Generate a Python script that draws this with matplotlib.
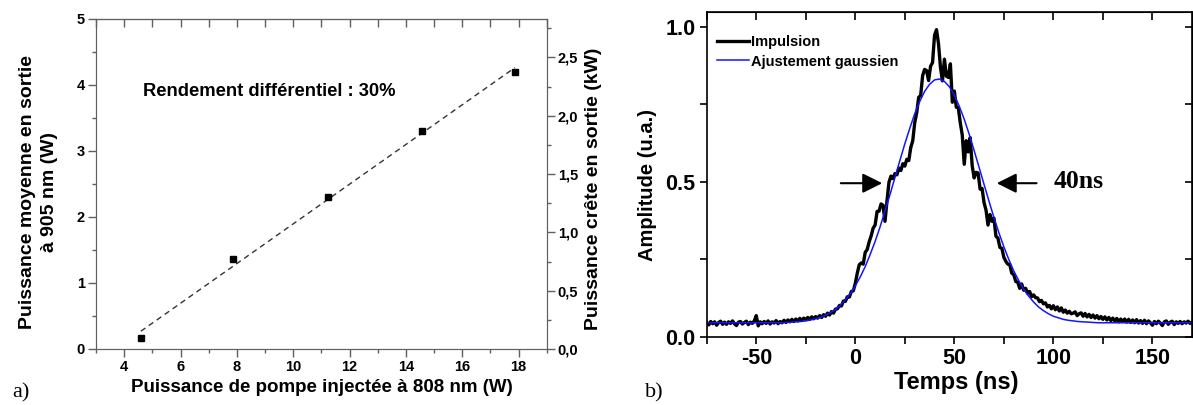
import numpy as np
import matplotlib.pyplot as plt
from matplotlib.ticker import MultipleLocator, FuncFormatter

plt.rcParams['font.family'] = ['Liberation Sans', 'DejaVu Sans']
plt.rcParams['font.weight'] = 'bold'
plt.rcParams['axes.labelweight'] = 'bold'
plt.rcParams['axes.unicode_minus'] = False

# ── (a) output power vs injected pump power ──────────────────────────────────
pump_w = [4.59, 7.87, 11.23, 14.56, 17.87]
avg_out_w = [0.16, 1.36, 2.31, 3.30, 4.19]
peak_kw_max = 2.83          # right axis top (kW) matching 5 W on the left
slope_text = 'Rendement différentiel : 30%'

# ── (b) pulse shape, 1 ns sampling starting at -75 ns ────────────────────────
pulse_t0 = -75
pulse_amp = [
    0.046, 0.038, 0.049, 0.042, 0.048, 0.037, 0.046, 0.050, 0.040, 0.047,
    0.040, 0.048, 0.043, 0.051, 0.042, 0.036, 0.047, 0.049, 0.041, 0.046,
    0.050, 0.039, 0.047, 0.043, 0.051, 0.068, 0.035, 0.048, 0.042, 0.049,
    0.043, 0.051, 0.041, 0.048, 0.044, 0.052, 0.042, 0.049, 0.045, 0.053,
    0.046, 0.054, 0.048, 0.056, 0.049, 0.057, 0.051, 0.059, 0.053, 0.060,
    0.055, 0.062, 0.056, 0.064, 0.058, 0.065, 0.060, 0.068, 0.062, 0.071,
    0.066, 0.076, 0.070, 0.081, 0.076, 0.089, 0.090, 0.101, 0.099, 0.115,
    0.114, 0.129, 0.128, 0.146, 0.148, 0.172, 0.205, 0.232, 0.238, 0.234,
    0.272, 0.281, 0.306, 0.325, 0.350, 0.360, 0.404, 0.405, 0.428, 0.424,
    0.372, 0.438, 0.498, 0.518, 0.510, 0.526, 0.522, 0.544, 0.536, 0.558,
    0.550, 0.572, 0.568, 0.610, 0.632, 0.690, 0.722, 0.772, 0.778, 0.842,
    0.862, 0.858, 0.826, 0.872, 0.884, 0.972, 0.990, 0.945, 0.868, 0.825,
    0.895, 0.840, 0.836, 0.880, 0.756, 0.792, 0.740, 0.738, 0.690, 0.650,
    0.556, 0.632, 0.596, 0.642, 0.552, 0.512, 0.530, 0.528, 0.476, 0.478,
    0.432, 0.408, 0.360, 0.394, 0.372, 0.382, 0.324, 0.318, 0.288, 0.285,
    0.256, 0.243, 0.234, 0.232, 0.205, 0.200, 0.178, 0.176, 0.156, 0.170,
    0.150, 0.156, 0.140, 0.146, 0.129, 0.135, 0.126, 0.125, 0.113, 0.117,
    0.106, 0.109, 0.096, 0.101, 0.090, 0.100, 0.087, 0.096, 0.083, 0.093,
    0.079, 0.086, 0.076, 0.082, 0.074, 0.076, 0.080, 0.068, 0.074, 0.077,
    0.066, 0.075, 0.064, 0.072, 0.062, 0.070, 0.060, 0.068, 0.058, 0.065,
    0.056, 0.064, 0.054, 0.062, 0.052, 0.060, 0.050, 0.059, 0.048, 0.057,
    0.049, 0.057, 0.047, 0.056, 0.046, 0.054, 0.045, 0.055, 0.044, 0.052,
    0.043, 0.053, 0.042, 0.051, 0.045, 0.037, 0.049, 0.042, 0.050, 0.044,
    0.036, 0.048, 0.051, 0.040, 0.047, 0.050, 0.039, 0.048, 0.043, 0.049,
    0.042, 0.048, 0.044, 0.050, 0.043, 0.047,
]

# gaussian fit, 2.5 ns sampling starting at -75 ns
fit_t0 = -75
fit_amp = [
    0.045, 0.045, 0.045, 0.045, 0.045, 0.045, 0.045, 0.045,
    0.045, 0.045, 0.045, 0.045, 0.045, 0.045, 0.045, 0.045,
    0.046, 0.047, 0.048, 0.049, 0.051, 0.054, 0.058, 0.063,
    0.069, 0.078, 0.088, 0.102, 0.119, 0.139, 0.164, 0.193,
    0.226, 0.265, 0.307, 0.354, 0.405, 0.458, 0.513, 0.568,
    0.622, 0.672, 0.719, 0.758, 0.791, 0.814, 0.828, 0.831,
    0.823, 0.806, 0.779, 0.743, 0.701, 0.653, 0.600, 0.546,
    0.491, 0.437, 0.384, 0.335, 0.290, 0.249, 0.212, 0.181,
    0.153, 0.131, 0.112, 0.096, 0.084, 0.074, 0.066, 0.061,
    0.056, 0.053, 0.051, 0.049, 0.048, 0.047, 0.046,
    0.045, 0.045, 0.045, 0.045, 0.045, 0.045, 0.045, 0.045, 0.045, 0.045,
    0.045, 0.045, 0.045, 0.045, 0.045, 0.045, 0.045, 0.045, 0.045, 0.045,
]

pulse_t = pulse_t0 + np.arange(len(pulse_amp))
fit_t = fit_t0 + 2.5 * np.arange(len(fit_amp))

fig = plt.figure(figsize=(11.93, 4.05), dpi=100)

# ── Panel a ───────────────────────────────────────────────────────────────────
grey = '#606060'
axa = fig.add_axes([0.0805, 0.1383, 0.3778, 0.8148])
axa.plot(pump_w, avg_out_w, 's', color='black', ms=4.8, zorder=3)
m, b = np.polyfit(pump_w, avg_out_w, 1)
x_fit = np.array([pump_w[0], pump_w[-1]])
axa.plot(x_fit, m * x_fit + b, color='#333333', lw=1.0, dashes=(4, 3))

axa.set_xlim(3, 19)
axa.set_ylim(0, 5)
axa.xaxis.set_major_locator(MultipleLocator(2))
axa.xaxis.set_minor_locator(MultipleLocator(1))
axa.yaxis.set_major_locator(MultipleLocator(1))
axa.yaxis.set_minor_locator(MultipleLocator(0.5))
axa.tick_params(which='major', direction='out', length=6, width=1, color=grey,
                labelsize=10.5, pad=2)
axa.tick_params(which='minor', direction='out', length=3, width=1, color=grey)
for s in axa.spines.values():
    s.set_color(grey)

top_a = axa.secondary_xaxis('top')
top_a.xaxis.set_major_locator(MultipleLocator(1))
top_a.tick_params(direction='in', length=6, width=1, color=grey, labeltop=False)
top_a.spines['top'].set_color(grey)

axa2 = axa.twinx()
axa2.set_ylim(0, peak_kw_max)
axa2.yaxis.set_major_locator(MultipleLocator(0.5))
axa2.yaxis.set_minor_locator(MultipleLocator(0.25))
axa2.yaxis.set_major_formatter(FuncFormatter(lambda v, _: f'{v:.1f}'.replace('.', ',')))
axa2.tick_params(which='major', direction='out', length=6, width=1, color=grey,
                 labelsize=10.5, pad=2)
axa2.tick_params(which='minor', direction='out', length=3, width=1, color=grey)
for s in axa2.spines.values():
    s.set_color(grey)

axa.text(4.67, 3.9, slope_text, fontsize=13.2, va='center')
axa.set_xlabel('Puissance de pompe injectée à 808 nm (W)', fontsize=13.5)
axa.xaxis.set_label_coords(0.5, -0.09)
axa.set_ylabel('Puissance moyenne en sortie\nà 905 nm (W)', fontsize=14,
               linespacing=1.4)
axa.yaxis.set_label_coords(-0.084, 0.476)
axa2.set_ylabel('Puissance crête en sortie (kW)', fontsize=14)
axa2.yaxis.set_label_coords(1.085, 0.485)

# ── Panel b ───────────────────────────────────────────────────────────────────
axb = fig.add_axes([0.5924, 0.1686, 0.4068, 0.8025])
axb.plot(pulse_t, pulse_amp, color='black', lw=2.4, label='Impulsion')
axb.plot(fit_t, fit_amp, color='#1414ff', lw=1.1, label='Ajustement gaussien')

axb.set_xlim(-75, 170)
axb.set_ylim(0, 1.048)
axb.xaxis.set_major_locator(MultipleLocator(50))
axb.xaxis.set_minor_locator(MultipleLocator(25))
axb.yaxis.set_major_locator(MultipleLocator(0.5))
axb.yaxis.set_minor_locator(MultipleLocator(0.25))
axb.yaxis.set_major_formatter(FuncFormatter(lambda v, _: f'{v:.1f}'))
axb.tick_params(which='both', direction='out', length=5, width=1.2,
                labelsize=15.5, pad=3)
for s in axb.spines.values():
    s.set_linewidth(1.2)

top_b = axb.secondary_xaxis('top')
top_b.xaxis.set_major_locator(MultipleLocator(25))
top_b.tick_params(direction='in', length=6, width=1.2, labeltop=False)
right_b = axb.secondary_yaxis('right')
right_b.yaxis.set_major_locator(MultipleLocator(0.25))
right_b.tick_params(direction='in', length=5, width=1.2, labelright=False)

axb.legend(loc='upper left', bbox_to_anchor=(0.009, 0.945), frameon=False,
           fontsize=10.5, handlelength=2.2, handletextpad=0.15,
           labelspacing=0.35, borderaxespad=0)

arrow = dict(arrowstyle='-|>,head_length=1.2,head_width=0.6', color='black',
             lw=1.5, shrinkA=0, shrinkB=0)
axb.annotate('', xy=(13.6, 0.495), xytext=(-7.3, 0.495), arrowprops=arrow)
axb.annotate('', xy=(71.4, 0.495), xytext=(91.5, 0.495), arrowprops=arrow)
axb.text(100, 0.5, '40ns', family=['Liberation Serif'], fontweight='bold',
         fontsize=18.5, va='center')

axb.set_xlabel('Temps (ns)', fontsize=17)
axb.xaxis.set_label_coords(0.515, -0.105)
axb.set_ylabel('Amplitude (u.a.)', fontsize=14.5)
axb.yaxis.set_label_coords(-0.102, 0.467)

fig.text(12 / 1193, 0.018, 'a)', family=['Liberation Serif'], fontweight='normal',
         fontsize=16, va='baseline')
fig.text(645 / 1193, 0.018, 'b)', family=['Liberation Serif'], fontweight='normal',
         fontsize=16, va='baseline')

plt.savefig('out.png', dpi=100)
print('Saved: out.png')
